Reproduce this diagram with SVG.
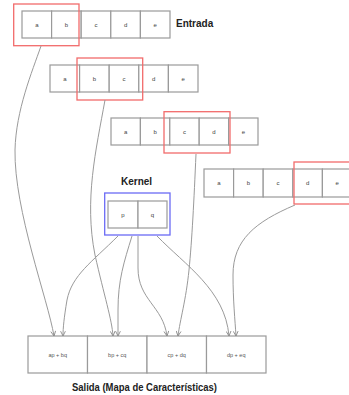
<svg xmlns="http://www.w3.org/2000/svg" width="349" height="395" viewBox="0 0 349 395">
  <style>
    .cell { fill: #ffffff; stroke: #9a9a9a; stroke-width: 1.2; }
    .ctext { font-family: "Liberation Sans", Arial, sans-serif; font-size: 6px; fill: #444; text-anchor: middle; }
    .otext { font-family: "Liberation Sans", Arial, sans-serif; font-size: 5.5px; fill: #555; text-anchor: middle; }
    .win { fill: none; stroke: #f26b6b; stroke-width: 1.3; }
    .kwin { fill: none; stroke: #6b6bf5; stroke-width: 1.3; }
    .title { font-family: "Liberation Sans", Arial, sans-serif; font-size: 10px; font-weight: bold; fill: #222; }
    .edge { fill: none; stroke: #9a9a9a; stroke-width: 1; marker-end: url(#arr); }
  </style>
  <defs>
    <marker id="arr" viewBox="0 0 10 10" refX="9" refY="5" markerWidth="6" markerHeight="6" orient="auto" markerUnits="userSpaceOnUse">
      <path d="M1,1 L9,5 L1,9" fill="none" stroke="#8a8a8a" stroke-width="1.5"/>
    </marker>
  </defs>
  <rect width="349" height="395" fill="#ffffff"/>

  <!-- input sequence, step 1 -->
  <g id="input-1">
    <rect class="cell" x="22" y="11" width="29.6" height="27"/>
    <rect class="cell" x="51.6" y="11" width="29.6" height="27"/>
    <rect class="cell" x="81.2" y="11" width="29.6" height="27"/>
    <rect class="cell" x="110.8" y="11" width="29.6" height="27"/>
    <rect class="cell" x="140.4" y="11" width="29.6" height="27"/>
    <text class="ctext" x="36.8" y="26.5">a</text>
    <text class="ctext" x="66.4" y="26.5">b</text>
    <text class="ctext" x="96" y="26.5">c</text>
    <text class="ctext" x="125.6" y="26.5">d</text>
    <text class="ctext" x="155.2" y="26.5">e</text>
    <rect class="win" x="13.7" y="4" width="65.3" height="41.7"/>
  </g>
  <text class="title" x="176" y="27">Entrada</text>

  <!-- input sequence, step 2 -->
  <g id="input-2">
    <rect class="cell" x="50" y="65" width="29.6" height="27"/>
    <rect class="cell" x="79.6" y="65" width="29.6" height="27"/>
    <rect class="cell" x="109.2" y="65" width="29.6" height="27"/>
    <rect class="cell" x="138.8" y="65" width="29.6" height="27"/>
    <rect class="cell" x="168.4" y="65" width="29.6" height="27"/>
    <text class="ctext" x="64.8" y="80.5">a</text>
    <text class="ctext" x="94.4" y="80.5">b</text>
    <text class="ctext" x="124" y="80.5">c</text>
    <text class="ctext" x="153.6" y="80.5">d</text>
    <text class="ctext" x="183.2" y="80.5">e</text>
    <rect class="win" x="77" y="58" width="65.7" height="42"/>
  </g>

  <!-- input sequence, step 3 -->
  <g id="input-3">
    <rect class="cell" x="111" y="118" width="29.4" height="27"/>
    <rect class="cell" x="140.4" y="118" width="29.4" height="27"/>
    <rect class="cell" x="169.8" y="118" width="29.4" height="27"/>
    <rect class="cell" x="199.2" y="118" width="29.4" height="27"/>
    <rect class="cell" x="228.6" y="118" width="29.4" height="27"/>
    <text class="ctext" x="125.7" y="133.5">a</text>
    <text class="ctext" x="155.1" y="133.5">b</text>
    <text class="ctext" x="184.5" y="133.5">c</text>
    <text class="ctext" x="213.9" y="133.5">d</text>
    <text class="ctext" x="243.3" y="133.5">e</text>
    <rect class="win" x="164" y="111.7" width="66" height="41.3"/>
  </g>

  <!-- input sequence, step 4 -->
  <g id="input-4">
    <rect class="cell" x="204" y="169" width="29.6" height="28"/>
    <rect class="cell" x="233.6" y="169" width="29.6" height="28"/>
    <rect class="cell" x="263.2" y="169" width="29.6" height="28"/>
    <rect class="cell" x="292.8" y="169" width="29.6" height="28"/>
    <rect class="cell" x="322.4" y="169" width="29.6" height="28"/>
    <text class="ctext" x="218.8" y="185">a</text>
    <text class="ctext" x="248.4" y="185">b</text>
    <text class="ctext" x="278" y="185">c</text>
    <text class="ctext" x="307.6" y="185">d</text>
    <text class="ctext" x="337.2" y="185">e</text>
    <rect class="win" x="294" y="162" width="66" height="42"/>
  </g>

  <!-- kernel -->
  <text class="title" x="121" y="185">Kernel</text>
  <g id="kernel">
    <rect class="cell" x="108" y="201" width="30" height="27"/>
    <rect class="cell" x="138" y="201" width="29" height="27"/>
    <text class="ctext" x="123" y="216.5">p</text>
    <text class="ctext" x="152.5" y="216.5">q</text>
    <rect class="kwin" x="104.7" y="193" width="65.3" height="42"/>
  </g>

  <!-- output feature map -->
  <g id="output">
    <rect class="cell" x="28" y="336" width="59.5" height="37"/>
    <rect class="cell" x="87.5" y="336" width="59.5" height="37"/>
    <rect class="cell" x="147" y="336" width="59.5" height="37"/>
    <rect class="cell" x="206.5" y="336" width="59.5" height="37"/>
    <text class="otext" x="57.7" y="356.5">ap + bq</text>
    <text class="otext" x="117.2" y="356.5">bp + cq</text>
    <text class="otext" x="176.7" y="356.5">cp + dq</text>
    <text class="otext" x="236.2" y="356.5">dp + eq</text>
  </g>
  <text class="title" x="72" y="391" textLength="145" lengthAdjust="spacingAndGlyphs">Salida (Mapa de Características)</text>

  <!-- connectors -->
  <g id="connectors">
    <path class="edge" d="M41,46 C32,72 16,110 15,150 C14,210 48,300 54,336"/>
    <path class="edge" d="M105,100 C96,150 84,200 95,255 C104,295 112,320 113,336"/>
    <path class="edge" d="M196,154 C194,200 192,240 189,270 C186,300 180,320 178,336"/>
    <path class="edge" d="M295,205 C255,222 233,240 233,275 C233,300 235,320 236,336"/>
    <path class="edge" d="M118,236 C92,262 72,275 67,300 C64,318 63,328 63,336"/>
    <path class="edge" d="M132,236 C124,262 118,280 118,310 L118,336"/>
    <path class="edge" d="M138,236 L138,268 C138,300 163,306 167,336"/>
    <path class="edge" d="M157,236 C185,265 225,290 229,336"/>
  </g>
</svg>
